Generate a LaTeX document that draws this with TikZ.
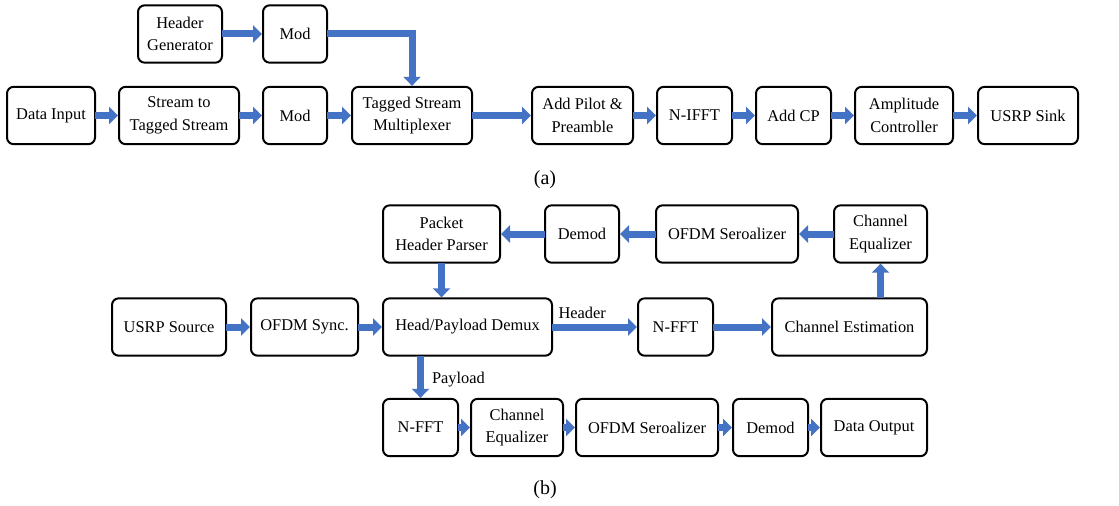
\documentclass[tikz,border=0pt]{standalone}
\usepackage{fontspec}
\setmainfont{Liberation Serif}
\usepackage{tikz}
\usetikzlibrary{arrows.meta, positioning, calc}
\definecolor{fblue}{HTML}{4472C4}

\begin{document}
\begin{tikzpicture}[x=0.75pt, y=-0.75pt,
  blk/.style={draw=black, line width=1.5pt, rounded corners=5pt, align=center,
    minimum height=43pt, inner sep=1pt, font=\fontsize{12.3}{17}\selectfont},
  flow/.style={draw=fblue, line width=5.25pt,
    -{Triangle[width=12.75pt, length=6.75pt]}, shorten <=-0.5pt},
  tag/.style={font=\fontsize{12.3}{15}\selectfont, inner sep=0pt}]
\useasboundingbox (0,0) rectangle (1119,506);
% (a) transmitter
\node[blk, minimum width=63pt] (hdrgen) at (180,34) {Header\\Generator};
\node[blk, minimum width=48pt] (modh) at (295,34) {Mod};
\node[blk, minimum width=66pt] (datain) at (51,115.5) {Data Input};
\node[blk, minimum width=90pt] (s2ts) at (179,115.5) {Stream to\\Tagged Stream};
\node[blk, minimum width=48pt] (mod) at (295,115.5) {Mod};
\node[blk, minimum width=90pt] (tsmux) at (412,115.5) {Tagged Stream\\Multiplexer};
\node[blk, minimum width=75.75pt] (pilot) at (582.5,115.5) {Add Pilot \&\\Preamble};
\node[blk, minimum width=56.25pt] (nifft) at (694.5,115.5) {N-IFFT};
\node[blk, minimum width=56.25pt] (addcp) at (793.5,115.5) {Add CP};
\node[blk, minimum width=73.5pt] (ampc) at (904,115.5) {Amplitude\\Controller};
\node[blk, minimum width=75pt] (sink) at (1028,115.5) {USRP Sink};
\draw[flow] (hdrgen) -- (modh);
\draw[flow] (modh.east) -| (tsmux.north);
\draw[flow] (datain) -- (s2ts);
\draw[flow] (s2ts) -- (mod);
\draw[flow] (mod) -- (tsmux);
\draw[flow] (tsmux) -- (pilot);
\draw[flow] (pilot) -- (nifft);
\draw[flow] (nifft) -- (addcp);
\draw[flow] (addcp) -- (ampc);
\draw[flow] (ampc) -- (sink);
\node[font=\fontsize{15}{18}\selectfont] (capa) at (545,180) {(a)};
% (b) receiver
\node[blk, minimum width=87.75pt] (php) at (441.5,234) {Packet\\Header Parser};
\node[blk, minimum width=55.5pt] (demodt) at (582,234) {Demod};
\node[blk, minimum width=106.5pt] (ofdmst) at (727,234) {OFDM Seroalizer};
\node[blk, minimum width=69.75pt] (cheqt) at (880.5,234) {Channel\\Equalizer};
\node[blk, minimum width=85.5pt] (src) at (169,327) {USRP Source};
\node[blk, minimum width=80.25pt] (sync) at (304.5,327) {OFDM Sync.};
\node[blk, minimum width=126.75pt] (demux) at (467.5,327) {Head/Payload Demux};
\node[blk, minimum width=56.25pt] (nfftm) at (675.5,327) {N-FFT};
\node[blk, minimum width=116.25pt] (chest) at (849.5,327) {Channel Estimation};
\node[blk, minimum width=56.25pt] (nfftb) at (420.5,427.5) {N-FFT};
\node[blk, minimum width=69pt] (cheqb) at (517,427.5) {Channel\\Equalizer};
\node[blk, minimum width=106.5pt] (ofdmsb) at (647,427.5) {OFDM Seroalizer};
\node[blk, minimum width=56.25pt] (demodb) at (770.5,427.5) {Demod};
\node[blk, minimum width=79.5pt] (dout) at (874,427.5) {Data Output};
\draw[flow] (cheqt) -- (ofdmst);
\draw[flow] (ofdmst) -- (demodt);
\draw[flow] (demodt) -- (php);
\draw[flow] (php.south) -- (php.south |- demux.north);
\draw[flow] (src) -- (sync);
\draw[flow] (sync) -- (demux);
\draw[flow] (demux) -- node[tag, pos=0, anchor=base west, xshift=1.5pt, yshift=6.75pt] {Header} (nfftm);
\draw[flow] (nfftm) -- (chest);
\draw[flow] (cheqt.south |- chest.north) -- (cheqt.south);
\draw[flow] (nfftb.north |- demux.south) -- node[tag, anchor=base west, xshift=6pt, yshift=-4.9pt] {Payload} (nfftb.north);
\draw[flow] (nfftb) -- (cheqb);
\draw[flow] (cheqb) -- (ofdmsb);
\draw[flow] (ofdmsb) -- (demodb);
\draw[flow] (demodb) -- (dout);
\node[font=\fontsize{15}{18}\selectfont] (capb) at (545,490) {(b)};
\end{tikzpicture}
\end{document}
